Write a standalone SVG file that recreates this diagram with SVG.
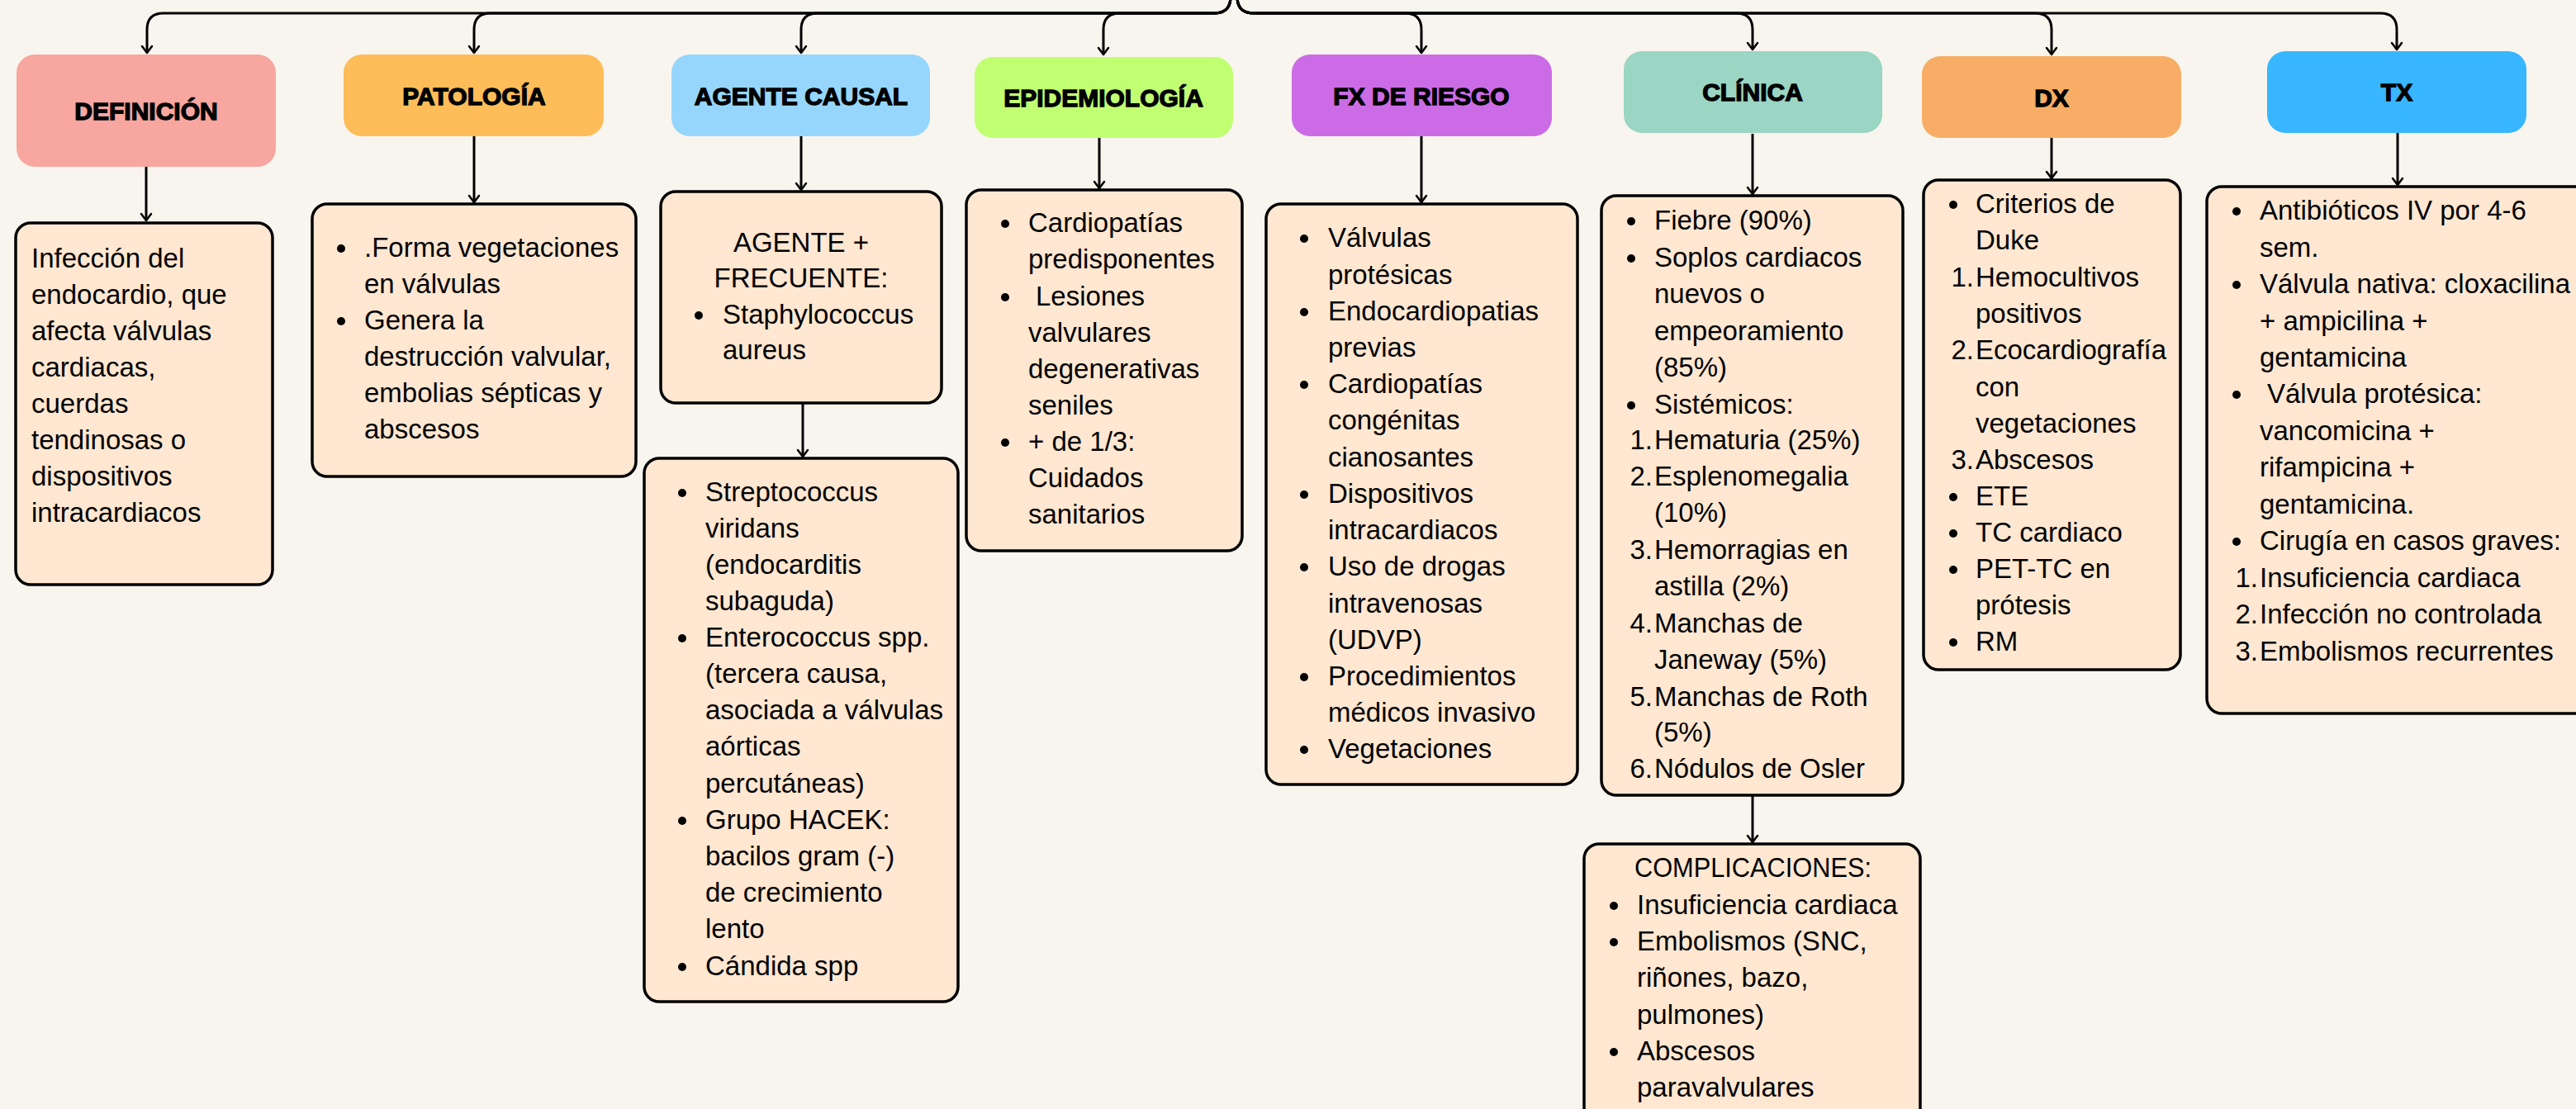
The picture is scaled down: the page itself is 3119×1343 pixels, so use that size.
<svg xmlns="http://www.w3.org/2000/svg" width="3119" height="1343" viewBox="0 0 3119 1343">
<defs>
<style>
.hdr{font-family:"Liberation Sans",Arial,sans-serif;font-weight:700;font-size:30px;text-anchor:middle;fill:#000;stroke:#000;stroke-width:1.3px}
.t{font-family:"Liberation Sans",Arial,sans-serif;font-size:33px;fill:#000}
.num{text-anchor:end}
.mid{text-anchor:middle}
.box{fill:#FFE7D1;stroke:#000;stroke-width:3.5}
.conn{fill:none;stroke:#000;stroke-width:3}
.b{fill:#000}
</style>
<marker id="arr" markerUnits="userSpaceOnUse" viewBox="-10 -8 12 16" refX="0" refY="0" markerWidth="12" markerHeight="16" orient="auto">
<path d="M-8,-6 L0,0 L-8,6" fill="none" stroke="#000" stroke-width="2.5" stroke-linecap="round" stroke-linejoin="round"/>
</marker>
</defs>
<rect x="0" y="0" width="3119" height="1343" fill="#F8F5EE"/>

<g id="connectors">
<path class="conn" marker-end="url(#arr)" d="M1490,-4 Q1490,16 1470,16 L198,16 Q178,16 178,36 L178,64"/>
<path class="conn" marker-end="url(#arr)" d="M1490,-4 Q1490,16 1470,16 L594,16 Q574,16 574,36 L574,64"/>
<path class="conn" marker-end="url(#arr)" d="M1490,-4 Q1490,16 1470,16 L990,16 Q970,16 970,36 L970,64"/>
<path class="conn" marker-end="url(#arr)" d="M1490,-4 Q1490,16 1470,16 L1356,16 Q1336,16 1336,36 L1336,66"/>
<path class="conn" marker-end="url(#arr)" d="M1498,-4 Q1498,16 1518,16 L1701,16 Q1721,16 1721,36 L1721,64"/>
<path class="conn" marker-end="url(#arr)" d="M1498,-4 Q1498,16 1518,16 L2102,16 Q2122,16 2122,36 L2122,60"/>
<path class="conn" marker-end="url(#arr)" d="M1498,-4 Q1498,16 1518,16 L2464,16 Q2484,16 2484,36 L2484,66"/>
<path class="conn" marker-end="url(#arr)" d="M1498,-4 Q1498,16 1518,16 L2882,16 Q2902,16 2902,36 L2902,60"/>
<path class="conn" marker-end="url(#arr)" d="M177,202 L177,267"/>
<path class="conn" marker-end="url(#arr)" d="M574,165 L574,245"/>
<path class="conn" marker-end="url(#arr)" d="M970,165 L970,230"/>
<path class="conn" marker-end="url(#arr)" d="M972,488 L972,553"/>
<path class="conn" marker-end="url(#arr)" d="M1331,167 L1331,228"/>
<path class="conn" marker-end="url(#arr)" d="M1721,165 L1721,245"/>
<path class="conn" marker-end="url(#arr)" d="M2122,162 L2122,235"/>
<path class="conn" marker-end="url(#arr)" d="M2122,963 L2122,1020"/>
<path class="conn" marker-end="url(#arr)" d="M2484,167 L2484,216"/>
<path class="conn" marker-end="url(#arr)" d="M2903,161 L2903,224"/>
</g>

<g id="h-definicion"><rect x="20" y="66" width="314" height="136" rx="22" fill="#F7A6A0"/><text class="hdr" x="177" y="145">DEFINICIÓN</text></g>
<g id="h-patologia"><rect x="416" y="66" width="315" height="99" rx="22" fill="#FEBD59"/><text class="hdr" x="574" y="127">PATOLOGÍA</text></g>
<g id="h-agente"><rect x="813" y="66" width="313" height="99" rx="22" fill="#96D6FC"/><text class="hdr" x="970" y="127">AGENTE CAUSAL</text></g>
<g id="h-epidemiologia"><rect x="1180" y="69" width="313" height="98" rx="22" fill="#C1FF72"/><text class="hdr" x="1336" y="129">EPIDEMIOLOGÍA</text></g>
<g id="h-fx"><rect x="1564" y="66" width="315" height="99" rx="22" fill="#CB6CE6"/><text class="hdr" x="1721" y="127">FX DE RIESGO</text></g>
<g id="h-clinica"><rect x="1966" y="62" width="313" height="99" rx="22" fill="#9BD5C3"/><text class="hdr" x="2122" y="122">CLÍNICA</text></g>
<g id="h-dx"><rect x="2327" y="68" width="314" height="99" rx="22" fill="#F7AD65"/><text class="hdr" x="2484" y="129">DX</text></g>
<g id="h-tx"><rect x="2745" y="62" width="314" height="99" rx="22" fill="#38B6FF"/><text class="hdr" x="2902" y="122">TX</text></g>

<g id="c-definicion">
<rect class="box" x="19" y="270" width="311" height="438" rx="18"/>
<text class="t" x="38" y="324">Infección del</text>
<text class="t" x="38" y="368">endocardio, que</text>
<text class="t" x="38" y="412">afecta válvulas</text>
<text class="t" x="38" y="456">cardiacas,</text>
<text class="t" x="38" y="500">cuerdas</text>
<text class="t" x="38" y="544">tendinosas o</text>
<text class="t" x="38" y="588">dispositivos</text>
<text class="t" x="38" y="632">intracardiacos</text>
</g>

<g id="c-patologia">
<rect class="box" x="378" y="247" width="392" height="330" rx="18"/>
<circle class="b" cx="413" cy="301" r="5"/><text class="t" x="441" y="311">.Forma vegetaciones</text>
<text class="t" x="441" y="355">en válvulas</text>
<circle class="b" cx="413" cy="389" r="5"/><text class="t" x="441" y="399">Genera la</text>
<text class="t" x="441" y="443">destrucción valvular,</text>
<text class="t" x="441" y="487">embolias sépticas y</text>
<text class="t" x="441" y="531">abscesos</text>
</g>

<g id="c-agente-frecuente">
<rect class="box" x="800" y="232" width="340" height="256" rx="18"/>
<text class="t mid" x="970" y="305">AGENTE +</text>
<text class="t mid" x="970" y="348">FRECUENTE:</text>
<circle class="b" cx="846" cy="382" r="5"/><text class="t" x="875" y="392">Staphylococcus</text>
<text class="t" x="875" y="435">aureus</text>
</g>

<g id="c-agente-otros">
<rect class="box" x="780" y="555" width="380" height="658" rx="18"/>
<circle class="b" cx="826" cy="597" r="5"/><text class="t" x="854" y="607">Streptococcus</text>
<text class="t" x="854" y="651">viridans</text>
<text class="t" x="854" y="695">(endocarditis</text>
<text class="t" x="854" y="739">subaguda)</text>
<circle class="b" cx="826" cy="773" r="5"/><text class="t" x="854" y="783">Enterococcus spp.</text>
<text class="t" x="854" y="827">(tercera causa,</text>
<text class="t" x="854" y="871">asociada a válvulas</text>
<text class="t" x="854" y="915">aórticas</text>
<text class="t" x="854" y="960">percutáneas)</text>
<circle class="b" cx="826" cy="994" r="5"/><text class="t" x="854" y="1004">Grupo HACEK:</text>
<text class="t" x="854" y="1048">bacilos gram (-)</text>
<text class="t" x="854" y="1092">de crecimiento</text>
<text class="t" x="854" y="1136">lento</text>
<circle class="b" cx="826" cy="1171" r="5"/><text class="t" x="854" y="1181">Cándida spp</text>
</g>

<g id="c-epidemiologia">
<rect class="box" x="1170" y="230" width="334" height="437" rx="18"/>
<circle class="b" cx="1217" cy="271" r="5"/><text class="t" x="1245" y="281">Cardiopatías</text>
<text class="t" x="1245" y="325">predisponentes</text>
<circle class="b" cx="1217" cy="360" r="5"/><text class="t" x="1254" y="370">Lesiones</text>
<text class="t" x="1245" y="414">valvulares</text>
<text class="t" x="1245" y="458">degenerativas</text>
<text class="t" x="1245" y="502">seniles</text>
<circle class="b" cx="1217" cy="536" r="5"/><text class="t" x="1245" y="546">+ de 1/3:</text>
<text class="t" x="1245" y="590">Cuidados</text>
<text class="t" x="1245" y="634">sanitarios</text>
</g>

<g id="c-fx">
<rect class="box" x="1533" y="247" width="377" height="703" rx="18"/>
<circle class="b" cx="1579" cy="289" r="5"/><text class="t" x="1608" y="299">Válvulas</text>
<text class="t" x="1608" y="344">protésicas</text>
<circle class="b" cx="1579" cy="378" r="5"/><text class="t" x="1608" y="388">Endocardiopatias</text>
<text class="t" x="1608" y="432">previas</text>
<circle class="b" cx="1579" cy="466" r="5"/><text class="t" x="1608" y="476">Cardiopatías</text>
<text class="t" x="1608" y="520">congénitas</text>
<text class="t" x="1608" y="565">cianosantes</text>
<circle class="b" cx="1579" cy="599" r="5"/><text class="t" x="1608" y="609">Dispositivos</text>
<text class="t" x="1608" y="653">intracardiacos</text>
<circle class="b" cx="1579" cy="687" r="5"/><text class="t" x="1608" y="697">Uso de drogas</text>
<text class="t" x="1608" y="742">intravenosas</text>
<text class="t" x="1608" y="786">(UDVP)</text>
<circle class="b" cx="1579" cy="820" r="5"/><text class="t" x="1608" y="830">Procedimientos</text>
<text class="t" x="1608" y="874">médicos invasivo</text>
<circle class="b" cx="1579" cy="908" r="5"/><text class="t" x="1608" y="918">Vegetaciones</text>
</g>

<g id="c-clinica">
<rect class="box" x="1939" y="237" width="365" height="726" rx="18"/>
<circle class="b" cx="1975" cy="268" r="5"/><text class="t" x="2003" y="278">Fiebre (90%)</text>
<circle class="b" cx="1975" cy="313" r="5"/><text class="t" x="2003" y="323">Soplos cardiacos</text>
<text class="t" x="2003" y="367">nuevos o</text>
<text class="t" x="2003" y="412">empeoramiento</text>
<text class="t" x="2003" y="456">(85%)</text>
<circle class="b" cx="1975" cy="491" r="5"/><text class="t" x="2003" y="501">Sistémicos:</text>
<text class="t num" x="2001" y="544">1.</text><text class="t" x="2003" y="544">Hematuria (25%)</text>
<text class="t num" x="2001" y="588">2.</text><text class="t" x="2003" y="588">Esplenomegalia</text>
<text class="t" x="2003" y="632">(10%)</text>
<text class="t num" x="2001" y="677">3.</text><text class="t" x="2003" y="677">Hemorragias en</text>
<text class="t" x="2003" y="721">astilla (2%)</text>
<text class="t num" x="2001" y="766">4.</text><text class="t" x="2003" y="766">Manchas de</text>
<text class="t" x="2003" y="810">Janeway (5%)</text>
<text class="t num" x="2001" y="855">5.</text><text class="t" x="2003" y="855">Manchas de Roth</text>
<text class="t" x="2003" y="898">(5%)</text>
<text class="t num" x="2001" y="942">6.</text><text class="t" x="2003" y="942">Nódulos de Osler</text>
</g>

<g id="c-complicaciones">
<rect class="box" x="1918" y="1022" width="407" height="345" rx="18"/>
<text class="t" x="1979" y="1062" textLength="287" lengthAdjust="spacingAndGlyphs">COMPLICACIONES:</text>
<circle class="b" cx="1954" cy="1097" r="5"/><text class="t" x="1982" y="1107">Insuficiencia cardiaca</text>
<circle class="b" cx="1954" cy="1141" r="5"/><text class="t" x="1982" y="1151">Embolismos (SNC,</text>
<text class="t" x="1982" y="1195">riñones, bazo,</text>
<text class="t" x="1982" y="1240">pulmones)</text>
<circle class="b" cx="1954" cy="1274" r="5"/><text class="t" x="1982" y="1284">Abscesos</text>
<text class="t" x="1982" y="1328">paravalvulares</text>
</g>

<g id="c-dx">
<rect class="box" x="2329" y="218" width="311" height="593" rx="18"/>
<circle class="b" cx="2365" cy="248" r="5"/><text class="t" x="2392" y="258">Criterios de</text>
<text class="t" x="2392" y="302">Duke</text>
<text class="t num" x="2390" y="347">1.</text><text class="t" x="2392" y="347">Hemocultivos</text>
<text class="t" x="2392" y="391">positivos</text>
<text class="t num" x="2390" y="435">2.</text><text class="t" x="2392" y="435">Ecocardiografía</text>
<text class="t" x="2392" y="480">con</text>
<text class="t" x="2392" y="524">vegetaciones</text>
<text class="t num" x="2390" y="568">3.</text><text class="t" x="2392" y="568">Abscesos</text>
<circle class="b" cx="2365" cy="602" r="5"/><text class="t" x="2392" y="612">ETE</text>
<circle class="b" cx="2365" cy="646" r="5"/><text class="t" x="2392" y="656">TC cardiaco</text>
<circle class="b" cx="2365" cy="690" r="5"/><text class="t" x="2392" y="700">PET-TC en</text>
<text class="t" x="2392" y="744">prótesis</text>
<circle class="b" cx="2365" cy="778" r="5"/><text class="t" x="2392" y="788">RM</text>
</g>

<g id="c-tx">
<rect class="box" x="2672" y="226" width="480" height="638" rx="18"/>
<circle class="b" cx="2708" cy="256" r="5"/><text class="t" x="2736" y="266">Antibióticos IV por 4-6</text>
<text class="t" x="2736" y="311">sem.</text>
<circle class="b" cx="2708" cy="345" r="5"/><text class="t" x="2736" y="355">Válvula nativa: cloxacilina</text>
<text class="t" x="2736" y="400">+ ampicilina +</text>
<text class="t" x="2736" y="444">gentamicina</text>
<circle class="b" cx="2708" cy="478" r="5"/><text class="t" x="2745" y="488">Válvula protésica:</text>
<text class="t" x="2736" y="533">vancomicina +</text>
<text class="t" x="2736" y="577">rifampicina +</text>
<text class="t" x="2736" y="622">gentamicina.</text>
<circle class="b" cx="2708" cy="656" r="5"/><text class="t" x="2736" y="666">Cirugía en casos graves:</text>
<text class="t num" x="2734" y="711">1.</text><text class="t" x="2736" y="711">Insuficiencia cardiaca</text>
<text class="t num" x="2734" y="755">2.</text><text class="t" x="2736" y="755">Infección no controlada</text>
<text class="t num" x="2734" y="800">3.</text><text class="t" x="2736" y="800">Embolismos recurrentes</text>
</g>
</svg>
